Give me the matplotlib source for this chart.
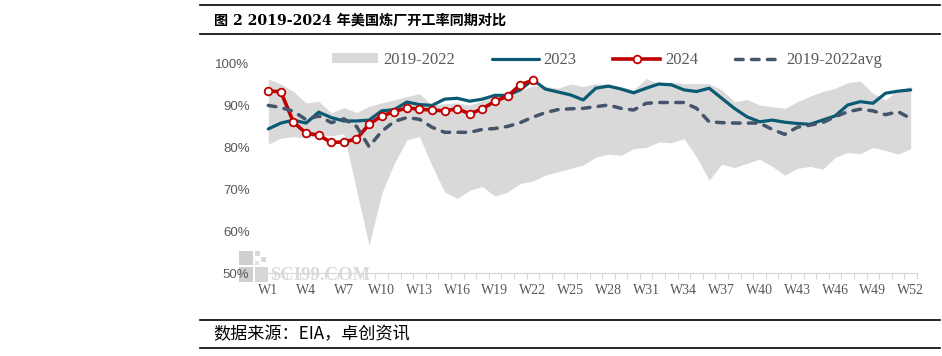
import matplotlib
matplotlib.use("Agg")
import matplotlib.pyplot as plt
from matplotlib.lines import Line2D
from matplotlib.patches import Rectangle

# week labels on the x axis
weeks = ["W" + str(i) for i in range(1, 53)]

# 2019-2022 min / max band
band_low = [80.7, 82.1, 82.5, 82.1, 82.7, 82.7, 83.1, 69.8, 56.6, 68.9,
            76.1, 81.7, 82.5, 75.5, 69.3, 67.7, 69.7, 70.6, 68.3, 69.3,
            71.3, 71.9, 73.3, 74.1, 74.9, 75.7, 77.6, 78.3, 78.0, 79.6,
            79.9, 81.2, 81.0, 82.0, 77.6, 72.1, 75.9, 75.1, 76.1, 77.1,
            75.4, 73.3, 74.9, 75.4, 74.7, 77.5, 78.7, 78.4, 79.9, 79.2,
            78.3, 79.6]
band_high = [96.2, 95.0, 93.2, 90.5, 90.9, 88.1, 89.4, 88.2, 89.7, 90.5,
             91.2, 92.0, 92.7, 90.0, 90.3, 90.5, 90.0, 91.0, 92.0, 92.5,
             93.5, 94.5, 94.4, 94.0, 95.0, 94.4, 95.1, 94.9, 94.4, 93.6,
             96.3, 95.1, 95.5, 95.1, 95.1, 95.1, 93.6, 90.8, 91.3, 90.0,
             89.6, 89.2, 90.8, 92.1, 93.2, 94.0, 95.3, 95.7, 92.8, 91.2,
             93.6, 94.4]

rate_2023 = [84.3, 85.7, 86.4, 85.7, 88.3, 87.0, 86.2, 86.2, 86.4, 88.6,
             88.9, 90.7, 90.1, 89.9, 91.4, 91.6, 90.9, 91.4, 92.3, 92.3,
             93.6, 96.0, 93.8, 93.1, 92.4, 91.2, 94.0, 94.5, 93.8, 92.9,
             94.0, 95.0, 94.8, 93.6, 93.2, 94.0, 91.6, 89.2, 87.2, 86.0,
             86.4, 85.9, 85.6, 85.4, 86.4, 87.4, 90.0, 90.8, 90.4, 92.8,
             93.3, 93.6]

rate_2024 = [93.4, 93.1, 85.9, 83.3, 82.8, 81.1, 81.2, 81.9, 85.4, 87.4,
             88.4, 89.3, 89.0, 88.8, 88.6, 89.1, 87.9, 89.1, 90.9, 92.1,
             94.8, 95.9]

rate_avg = [89.9, 89.4, 88.5, 86.5, 87.4, 85.8, 86.7, 84.9, 80.1, 83.7,
            86.1, 87.0, 86.6, 84.7, 83.5, 83.5, 83.5, 84.2, 84.4, 84.9,
            85.8, 87.1, 88.2, 88.9, 89.1, 89.2, 89.6, 90.0, 89.2, 88.8,
            90.4, 90.6, 90.6, 90.6, 89.2, 86.0, 85.8, 85.7, 85.7, 85.7,
            84.2, 83.0, 84.7, 85.2, 85.8, 87.2, 88.4, 89.0, 88.6, 87.7,
            88.4, 86.8]

y_ticks = [50, 60, 70, 80, 90, 100]

W, H = 942, 356
fig = plt.figure(figsize=(W / 100, H / 100), dpi=100)

serif = ["Liberation Serif", "Noto Sans CJK SC"]
cjk = ["Noto Sans CJK SC", "DejaVu Sans"]

ax = fig.add_axes([262 / W, 1 - 273 / H, 655 / W, 210 / H])
ax.patch.set_visible(False)

x = list(range(1, 53))
ax.fill_between(x, band_low, band_high, color="#D9D9D9", lw=0, label="2019-2022")
ax.plot(x, rate_2023, color="#0B5A73", lw=2.3, solid_capstyle="round", label="2023")
ax.plot(x[:len(rate_2024)], rate_2024, color="#C00000", lw=2.6,
        marker="o", ms=5.5, mfc="white", mec="#C00000", mew=1.3, label="2024")
ax.plot(x, rate_avg, color="#44546A", lw=2.5, dashes=(2.2, 2.4),
        dash_capstyle="round", label="2019-2022avg")

ax.set_xlim(0.5, 52.5)
ax.set_ylim(50, 100)

# axes look
for s in ["left", "top", "right"]:
    ax.spines[s].set_visible(False)
ax.spines["bottom"].set_color("#D9D9D9")
ax.spines["bottom"].set_linewidth(0.9)

ax.set_yticks(y_ticks)
ax.set_yticklabels([str(v) + "%" for v in y_ticks], family="Liberation Sans",
                   fontsize=9.5, color="#595959")
ax.tick_params(axis="y", length=0, pad=9)

ax.set_xticks(x[::3])
ax.set_xticklabels(weeks[::3], family=serif, fontsize=10, color="#595959")
ax.set_xticks([i + 0.5 for i in range(0, 53)], minor=True)
ax.tick_params(axis="x", which="major", length=0, pad=8)
ax.tick_params(axis="x", which="minor", length=4, color="#D9D9D9", width=0.9)

# legend across the top
handles, labels = ax.get_legend_handles_labels()
fig.legend(handles, labels, loc="center", bbox_to_anchor=(607 / W, 1 - 60 / H),
           ncol=4, frameon=False, prop={"family": serif, "size": 12},
           labelcolor="#595959", handlelength=2.8, handleheight=0.5,
           handletextpad=0.3, columnspacing=2.2)

# watermark logo, kept behind the axes
def logo_box(x0, y0, w, h, c):
    r = Rectangle((x0 / W, 1 - (y0 + h) / H), w / W, h / H,
                  transform=fig.transFigure, color=c, lw=0, zorder=-1)
    fig.patches.append(r)

logo_box(239, 251, 14, 14, "#CFCFCF")
logo_box(239, 267, 14, 15, "#CFCFCF")
logo_box(255, 267, 13, 15, "#D6D6D6")
logo_box(255, 251, 5, 5, "#D9D9D9")
logo_box(261, 257, 5, 5, "#D9D9D9")
logo_box(255, 261, 4, 4, "#E3E3E3")
fig.text(270 / W, 1 - 275 / H, "SCI99.COM", family="Liberation Serif",
         fontsize=13.5, weight="bold", color="#DADADA", va="center", zorder=-1)

# title and source rules
for yy in [5, 34, 320, 348]:
    fig.add_artist(Line2D([200 / W, 940 / W], [1 - yy / H, 1 - yy / H],
                          color="black", lw=1.2))

fig.text(214 / W, 1 - 20 / H, "图 2 2019-2024 年美国炼厂开工率同期对比",
         family=["DejaVu Serif", "Noto Sans CJK SC"], weight="bold",
         fontsize=10.2, va="center")
fig.text(213 / W, 1 - 334 / H, "数据来源：EIA，卓创资讯", family=cjk,
         fontsize=12.3, va="center")

fig.savefig("out.png", dpi=100)
